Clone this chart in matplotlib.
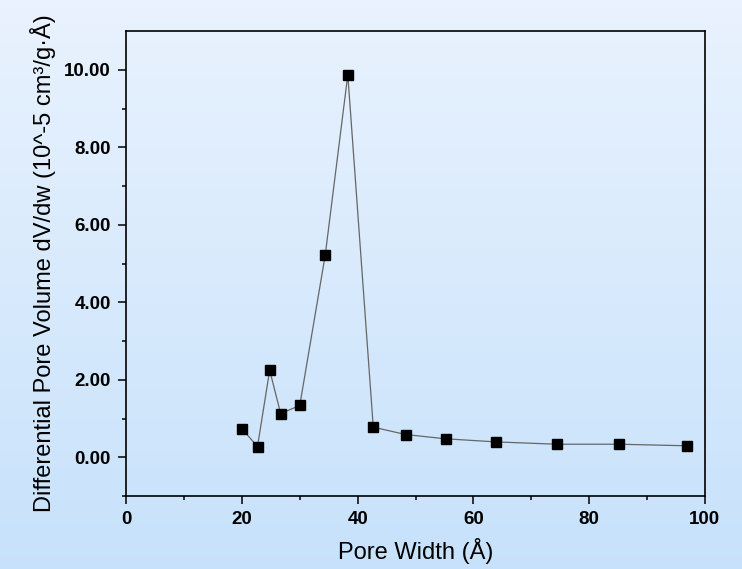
import numpy as np
import matplotlib
matplotlib.use("Agg")
import matplotlib.pyplot as plt

# Pore size distribution
pore_width = [20.0, 22.7, 24.8, 26.7, 30.0, 34.4, 38.3, 42.7, 48.3, 55.2, 63.9, 74.4, 85.2, 96.9]
dv_dw = [0.74, 0.28, 2.25, 1.13, 1.34, 5.22, 9.87, 0.78, 0.59, 0.48, 0.40, 0.34, 0.34, 0.30]

x_ticks = [0, 20, 40, 60, 80, 100]
y_ticks = [0, 2, 4, 6, 8, 10]

plt.rcParams['font.family'] = ['Liberation Sans', 'DejaVu Sans']

fig = plt.figure(figsize=(7.42, 5.69), dpi=100)

# background gradient over the whole figure
bg = fig.add_axes([0, 0, 1, 1], zorder=-1)
grad = np.linspace(0, 1, 256).reshape(-1, 1)
top = np.array([0.915, 0.95, 0.995])
bot = np.array([0.78, 0.885, 0.985])
img = top[None, None, :] * (1 - grad[:, :, None]) + bot[None, None, :] * grad[:, :, None]
bg.imshow(img, aspect='auto', extent=[0, 1, 0, 1])
bg.axis('off')

ax = fig.add_axes([0.170, 0.128, 0.780, 0.8175])
ax.patch.set_alpha(0)
ax.plot(pore_width, dv_dw, color='#666666', lw=0.9, marker='s', ms=6.5,
        mfc='black', mec='black')

ax.set_xlim(0, 100)
ax.set_ylim(-1, 11)
ax.set_xticks(x_ticks)
ax.set_xticks(np.arange(10, 100, 20), minor=True)
ax.set_yticks(y_ticks)
ax.set_yticklabels(['%.2f' % v for v in y_ticks])
ax.set_yticks(np.arange(-1, 11, 2), minor=True)

for s in ax.spines.values():
    s.set_linewidth(1.2)
ax.tick_params(which='major', direction='out', length=6, width=1.1, labelsize=13.5, pad=5)
ax.tick_params(which='minor', direction='out', length=3, width=1.1)
for lab in ax.get_xticklabels() + ax.get_yticklabels():
    lab.set_fontweight('bold')

ax.set_xlabel('Pore Width (Å)', fontsize=17, labelpad=7)
ax.set_ylabel('Differential Pore Volume dV/dw (10^-5 cm³/g·Å)', fontsize=17, labelpad=6)

fig.savefig('out.png', dpi=100)
